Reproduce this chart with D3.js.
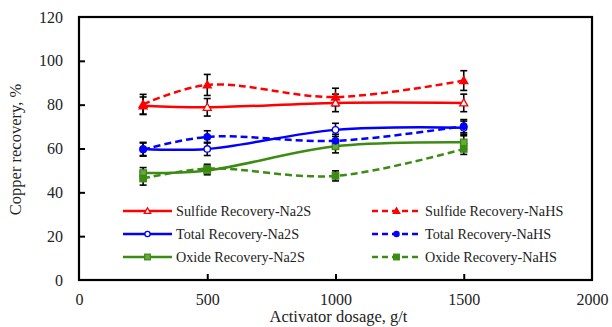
<!DOCTYPE html>
<html lang="en">
<head>
<meta charset="UTF-8">
<title>Copper recovery vs activator dosage</title>
<script src="https://d3js.org/d3.v7.min.js"></script>
<style>
    body { margin: 0; background: #fff; }
    svg text { font-family: "Liberation Serif", "Times New Roman", serif; fill: #222; }
    .tick text { font-size: 16px; }
    .legend text { font-size: 14.2px; }
    .title { font-size: 16.5px; }
</style>
</head>
<body>
<div id="chart"></div>
<script>
    const dosage = [250, 500, 1000, 1500];

    const sulfideNa2S = [79.5, 78.8, 80.8, 80.8];
    const sulfideNaHS = [80.2, 89.0, 83.5, 91.0];
    const totalNa2S = [59.8, 59.8, 68.5, 69.5];
    const totalNaHS = [59.5, 65.3, 63.5, 70.2];
    const oxideNa2S = [48.8, 50.0, 61.0, 62.8];
    const oxideNaHS = [46.3, 50.8, 47.5, 59.8];

    const errSulfideNa2S = [4, 4, 4, 4];
    const errSulfideNaHS = [4.5, 4.8, 4, 4.5];
    const errTotalNa2S = [3, 3, 3, 3];
    const errTotalNaHS = [3, 2.8, 3, 3];
    const errOxideNa2S = [2.5, 2, 3, 3];
    const errOxideNaHS = [3, 2, 2.3, 2.5];

    const xTicks = [0, 500, 1000, 1500, 2000];
    const yTicks = [0, 20, 40, 60, 80, 100, 120];

    const red = "#ff0000", blue = "#0000ff", green = "#3c8c14";

    const series = [
        { name: "Sulfide Recovery-Na2S", values: sulfideNa2S, err: errSulfideNa2S, color: red, dash: null, marker: "triangle", filled: false },
        { name: "Total Recovery-Na2S", values: totalNa2S, err: errTotalNa2S, color: blue, dash: null, marker: "circle", filled: false },
        { name: "Oxide Recovery-Na2S", values: oxideNa2S, err: errOxideNa2S, color: green, dash: null, marker: "square", filled: false },
        { name: "Sulfide Recovery-NaHS", values: sulfideNaHS, err: errSulfideNaHS, color: red, dash: "7,4", marker: "triangle", filled: true },
        { name: "Total Recovery-NaHS", values: totalNaHS, err: errTotalNaHS, color: blue, dash: "7,4", marker: "circle", filled: true },
        { name: "Oxide Recovery-NaHS", values: oxideNaHS, err: errOxideNaHS, color: green, dash: "7,4", marker: "square", filled: true }
    ];

    const width = 612, height = 327;
    const margin = { top: 17, right: 20, bottom: 47, left: 79 };
    const innerW = width - margin.left - margin.right;
    const innerH = height - margin.top - margin.bottom;

    const svg = d3.select("#chart").append("svg")
        .attr("width", width)
        .attr("height", height);

    const g = svg.append("g").attr("transform", `translate(${margin.left},${margin.top})`);

    const x = d3.scaleLinear().domain([0, 2000]).range([0, innerW]);
    const y = d3.scaleLinear().domain([0, 120]).range([innerH, 0]);

    // axes with inward ticks
    const xAxis = g.append("g")
        .attr("transform", `translate(0,${innerH})`)
        .call(d3.axisBottom(x).tickValues(xTicks).tickSize(-6).tickPadding(14).tickFormat(d3.format("d")));
    const yAxis = g.append("g")
        .call(d3.axisLeft(y).tickValues(yTicks).tickSize(-6).tickPadding(16));

    [xAxis, yAxis].forEach(a => {
        a.select(".domain").remove();
        a.selectAll(".tick line").attr("stroke", "#000").attr("stroke-width", 2);
    });
    xAxis.selectAll(".tick").filter(d => d === 0 || d === 2000).select("line").remove();
    yAxis.selectAll(".tick").filter(d => d === 0 || d === 120).select("line").remove();

    g.append("rect")
        .attr("width", innerW)
        .attr("height", innerH)
        .attr("fill", "none")
        .attr("stroke", "#000")
        .attr("stroke-width", 2.2);

    // axis titles
    svg.append("text")
        .attr("class", "title")
        .attr("x", margin.left + x(1000) + 3)
        .attr("y", 322)
        .attr("text-anchor", "middle")
        .text("Activator dosage, g/t");

    svg.append("text")
        .attr("class", "title")
        .attr("transform", `translate(21,${margin.top + y(60) + 1}) rotate(-90)`)
        .attr("text-anchor", "middle")
        .text("Copper recovery, %");

    const line = d3.line()
        .x(d => x(d[0]))
        .y(d => y(d[1]))
        .curve(d3.curveCatmullRom.alpha(0.5));

    function drawMarker(sel, s, cx, cy, small) {
        const sw = 1.3;
        const fill = s.filled ? s.color : "#fff";
        if (s.marker === "triangle") {
            const r = small ? 3.2 : 4;
            sel.append("path")
                .attr("d", `M${cx},${cy - r} L${cx + r},${cy + r * 0.75} L${cx - r},${cy + r * 0.75} Z`)
                .attr("fill", fill).attr("stroke", s.color).attr("stroke-width", sw);
        } else if (s.marker === "circle") {
            sel.append("circle")
                .attr("cx", cx).attr("cy", cy).attr("r", small ? 2.6 : 3.2)
                .attr("fill", fill).attr("stroke", s.color).attr("stroke-width", sw);
        } else {
            const h = small ? 2.8 : 3.2;
            sel.append("rect")
                .attr("x", cx - h).attr("y", cy - h).attr("width", 2 * h).attr("height", 2 * h)
                .attr("fill", s.filled ? s.color : "#6aa83e").attr("stroke", s.color).attr("stroke-width", sw);
        }
    }

    // error bars
    series.forEach(s => {
        dosage.forEach((d, i) => {
            const cx = x(d);
            const y1 = y(s.values[i] + s.err[i]);
            const y2 = y(s.values[i] - s.err[i]);
            const eb = g.append("g").attr("stroke", "#000").attr("stroke-width", 1.6);
            eb.append("line").attr("x1", cx).attr("x2", cx).attr("y1", y1).attr("y2", y2);
            eb.append("line").attr("x1", cx - 3.5).attr("x2", cx + 3.5).attr("y1", y1).attr("y2", y1);
            eb.append("line").attr("x1", cx - 3.5).attr("x2", cx + 3.5).attr("y1", y2).attr("y2", y2);
        });
    });

    // lines and markers
    series.forEach(s => {
        const pts = dosage.map((d, i) => [d, s.values[i]]);
        g.append("path")
            .attr("d", line(pts))
            .attr("fill", "none")
            .attr("stroke", s.color)
            .attr("stroke-width", 2.5)
            .attr("stroke-dasharray", s.dash);
        pts.forEach(p => drawMarker(g, s, x(p[0]), y(p[1]), false));
    });

    // legend
    const legend = svg.append("g").attr("class", "legend");
    series.forEach((s, i) => {
        const col = Math.floor(i / 3), row = i % 3;
        const lx = col === 0 ? 123 : 372;
        const ly = 211 + row * 23;
        const item = legend.append("g");
        item.append("line")
            .attr("x1", lx).attr("x2", lx + 49)
            .attr("y1", ly).attr("y2", ly)
            .attr("stroke", s.color)
            .attr("stroke-width", 2.5)
            .attr("stroke-dasharray", s.dash ? "6,4" : null);
        drawMarker(item, s, lx + 24.5, ly, true);
        item.append("text")
            .attr("x", lx + 53)
            .attr("y", ly + 4.5)
            .text(s.name);
    });
</script>
</body>
</html>
